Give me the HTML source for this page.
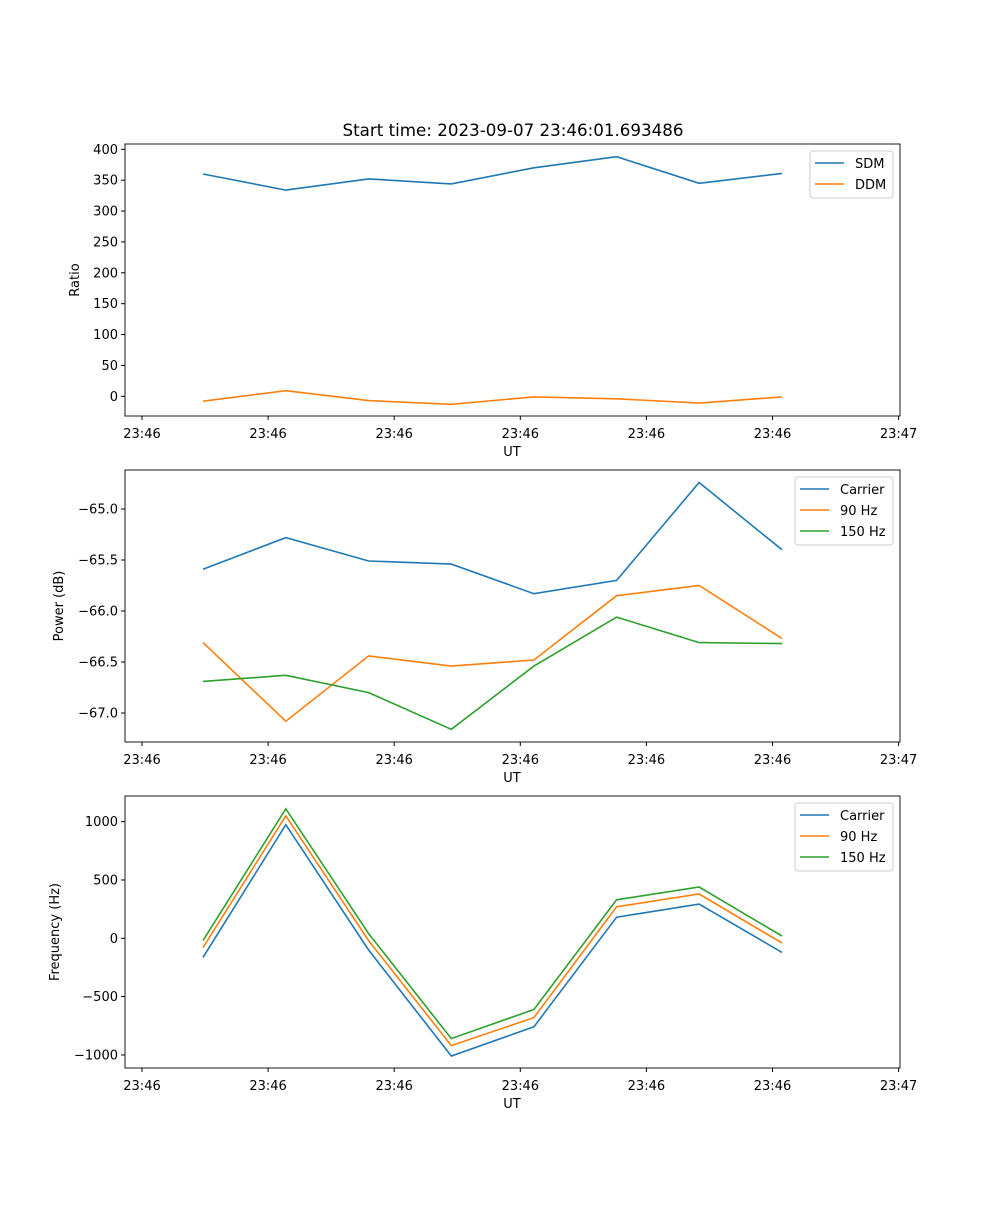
<!DOCTYPE html>
<html><head><meta charset="utf-8"><style>
body{margin:0;background:#fff}
svg text{font-family:"DejaVu Sans","Liberation Sans",sans-serif;font-size:13px;fill:#000}
</style></head><body>
<svg id="fig" width="1000" height="1200" xmlns="http://www.w3.org/2000/svg">
<rect width="1000" height="1200" fill="#fff"/>
<text x="513" y="136" text-anchor="middle" style="font-size:16.7px">Start time: 2023-09-07 23:46:01.693486</text>
</svg>
<script>
// x: sample times in tick units (tick k = k)
const times=[0.484,1.140,1.797,2.453,3.108,3.764,4.418,5.075];
const xTicks=[0,1,2,3,4,5,6];
const xTickLabels=["23:46","23:46","23:46","23:46","23:46","23:46","23:47"];
const sdm=[360,334,352,344,370,388,345,361];
const ddm=[-8,9,-7,-13,-1,-4,-11,-1];
const pCarrier=[-65.59,-65.28,-65.51,-65.54,-65.83,-65.70,-64.74,-65.40];
const p90=[-66.31,-67.08,-66.44,-66.54,-66.48,-65.85,-65.75,-66.27];
const p150=[-66.69,-66.63,-66.80,-67.16,-66.54,-66.06,-66.31,-66.32];
const fCarrier=[-164,974,-100,-1009,-759,181,293,-121];
const f90=[-80,1050,-20,-920,-680,270,380,-40];
const f150=[-20,1110,40,-860,-610,330,440,20];
const ticks1=[0,50,100,150,200,250,300,350,400];
const ticks2=[-67.0,-66.5,-66.0,-65.5,-65.0];
const ticks3=[-1000,-500,0,500,1000];

const NS="http://www.w3.org/2000/svg";
const svg=document.getElementById('fig');
function el(t,a,p){const e=document.createElementNS(NS,t);for(const k in a)e.setAttribute(k,a[k]);(p||svg).appendChild(e);return e;}
const C=["#1f77b4","#ff7f0e","#2ca02c"];
const L=125,R=900;
function xs(t){return 142+(t)*126.1;}

function panel(top,bottom,ymap,yTicks,fmt,ylabel,series,names,legX,legW,name,ylabX){
  const g=el('g',{});
  
  
  series.forEach((s,i)=>{
    const pts=s.map((v,j)=>xs(times[j]).toFixed(1)+','+ymap(v).toFixed(1)).join(' ');
    const pl=el('polyline',{points:pts,fill:'none',stroke:C[i],'stroke-width':1.6},g);
    
    
  });
  const fr=el('rect',{x:L,y:top,width:R-L,height:bottom-top,fill:'none',stroke:'#000','stroke-width':0.9},g);
  
  
  xTicks.forEach((t,i)=>{
    const x=xs(t);
    el('line',{x1:x,x2:x,y1:bottom,y2:bottom+4,stroke:'#000'},g);
    const tx=el('text',{x:x,y:bottom+22,'text-anchor':'middle'},g);tx.textContent=xTickLabels[i];
    
    
  });
  const xl=el('text',{x:512,y:bottom+40,'text-anchor':'middle'},g);xl.textContent='UT';
  
  
  yTicks.forEach(v=>{
    const y=ymap(v);
    el('line',{x1:L-4,x2:L,y1:y,y2:y,stroke:'#000'},g);
    const tx=el('text',{x:L-7,y:y+4.5,'text-anchor':'end'},g);tx.textContent=fmt(v);
    
    
  });
  const cy=(top+bottom)/2;
  const yl=el('text',{x:ylabX,y:cy,'text-anchor':'middle',transform:`rotate(-90 ${ylabX} ${cy})`},g);yl.textContent=ylabel;
  
  
  const lg=el('g',{},g);
  
  
  el('rect',{x:legX,y:top+7,width:legW,height:names.length*21+5,rx:3,fill:'#fff',stroke:'#ccc'},lg);
  names.forEach((n,i)=>{
    const y=top+19+i*21;
    const e=el('g',{},lg);
    
    
    el('line',{x1:legX+5,x2:legX+34,y1:y,y2:y,stroke:C[i],'stroke-width':1.6},e);
    const t=el('text',{x:legX+45,y:y+5},e);t.textContent=n;
  });
}
const minus=s=>String(s).replace('-','\u2212');
panel(144,416,v=>396.3-v*0.6175,ticks1,v=>minus(v),'Ratio',[sdm,ddm],['SDM','DDM'],810,83,'ratio-panel',79);
panel(470,742,v=>509-(v+65)*102,ticks2,v=>minus(v.toFixed(1)),'Power (dB)',[pCarrier,p90,p150],['Carrier','90 Hz','150 Hz'],795,98,'power-panel',63);
panel(796,1068,v=>938.3-v*0.11665,ticks3,v=>minus(v),'Frequency (Hz)',[fCarrier,f90,f150],['Carrier','90 Hz','150 Hz'],795,98,'frequency-panel',59);
</script>
</body></html>
